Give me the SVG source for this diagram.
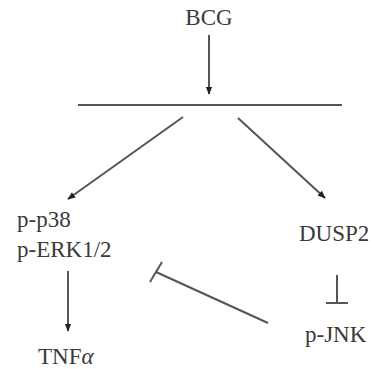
<svg xmlns="http://www.w3.org/2000/svg" width="372" height="369" viewBox="0 0 372 369">
<style>
text{font-family:"Liberation Serif","Times New Roman",serif;font-size:23px;fill:#3a3a3a}
.c{stroke:#555;stroke-width:2;fill:none}
</style>
<defs>
<marker id="ah" viewBox="0 0 10 10" refX="9" refY="5" markerWidth="8" markerHeight="8" markerUnits="userSpaceOnUse" orient="auto">
<path d="M0,1 L10,5 L0,9 z" fill="#222"/>
</marker>
</defs>
<rect width="372" height="369" fill="#fff"/>
<g id="connectors">
<line class="c" x1="209" y1="35" x2="209" y2="94" marker-end="url(#ah)"/>
<line class="c" x1="78" y1="105" x2="342" y2="105"/>
<line class="c" x1="183" y1="117" x2="68" y2="199" marker-end="url(#ah)"/>
<line class="c" x1="238" y1="118" x2="325" y2="198" marker-end="url(#ah)"/>
<line class="c" x1="68" y1="271" x2="68" y2="331" marker-end="url(#ah)"/>
<line class="c" x1="337" y1="275" x2="337" y2="303"/>
<line class="c" x1="326" y1="303" x2="348" y2="303"/>
<line class="c" x1="268" y1="323" x2="156" y2="272"/>
<line class="c" x1="162" y1="262" x2="150" y2="282"/>
</g>
<g id="BCG"><text x="209" y="25" text-anchor="middle">BCG</text></g>
<g id="p38ERK"><text x="17" y="227">p-p38</text><text x="17" y="257">p-ERK1/2</text></g>
<g id="DUSP2"><text x="299" y="241">DUSP2</text></g>
<g id="TNFa"><text x="38" y="364">TNF<tspan font-style="italic">α</tspan></text></g>
<g id="pJNK"><text x="305" y="342">p-JNK</text></g>
</svg>
